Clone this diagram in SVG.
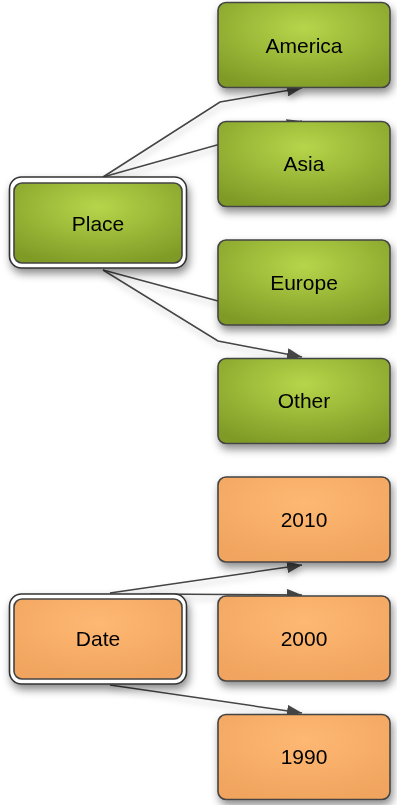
<svg xmlns="http://www.w3.org/2000/svg" width="397" height="805" viewBox="0 0 397 805">
<defs>
<radialGradient id="gg" cx="50%" cy="30%" r="75%" fx="50%" fy="30%">
<stop offset="0" stop-color="#b7d54a"/>
<stop offset="1" stop-color="#7f9b26"/>
</radialGradient>
<radialGradient id="og" cx="50%" cy="30%" r="75%" fx="50%" fy="30%">
<stop offset="0" stop-color="#feb873"/>
<stop offset="1" stop-color="#f0a45e"/>
</radialGradient>
<filter id="sh" x="-20%" y="-20%" width="150%" height="160%">
<feDropShadow dx="2" dy="5" stdDeviation="4" flood-color="#000" flood-opacity="0.45"/>
</filter>
<filter id="esh" x="-20%" y="-50%" width="140%" height="200%">
<feDropShadow dx="1" dy="4" stdDeviation="3" flood-color="#000" flood-opacity="0.25"/>
</filter>
<marker id="ah" markerWidth="16" markerHeight="12" refX="15" refY="6" orient="auto" markerUnits="userSpaceOnUse">
<path d="M0,0 L15,6 L0,12 Z" fill="#444"/>
</marker>
</defs>
<style>
.e{fill:none;stroke:#444;stroke-width:1.5}
.b{stroke:#444;stroke-width:1.6}
.g{fill:url(#gg)}
.o{fill:url(#og)}
.w{fill:#fff;stroke:#333;stroke-width:1.6}
text{font-family:"Liberation Sans",Arial,sans-serif;font-size:21px;fill:#000;text-anchor:middle}
</style>
<g id="connectors" filter="url(#esh)">
<path class="e" d="M103,177 L220,102 L302,88" marker-end="url(#ah)"/>
<path class="e" d="M103,177 L302,121" marker-end="url(#ah)"/>
<path class="e" d="M103,270 L218,301 L300,316" marker-end="url(#ah)"/>
<path class="e" d="M103,270 L218,341 L302,357" marker-end="url(#ah)"/>
<path class="e" d="M110,593 L302,565" marker-end="url(#ah)"/>
<path class="e" d="M150,594 L302,595" marker-end="url(#ah)"/>
<path class="e" d="M110,685 L302,713" marker-end="url(#ah)"/>
</g>
<g id="place" filter="url(#sh)">
<rect class="w" x="9.5" y="177" width="177" height="91" rx="12"/>
<rect class="b g" x="14" y="183" width="168" height="80" rx="8"/>
<text x="98" y="231">Place</text>
</g>
<g id="america" filter="url(#sh)">
<rect class="b g" x="218" y="2.5" width="172" height="85" rx="8"/>
<text x="304" y="53">America</text>
</g>
<g id="asia" filter="url(#sh)">
<rect class="b g" x="218" y="121.5" width="172" height="85" rx="8"/>
<text x="304" y="171">Asia</text>
</g>
<g id="europe" filter="url(#sh)">
<rect class="b g" x="218" y="240" width="172" height="85" rx="8"/>
<text x="304" y="290">Europe</text>
</g>
<g id="other" filter="url(#sh)">
<rect class="b g" x="218" y="358.5" width="172" height="85" rx="8"/>
<text x="304" y="408">Other</text>
</g>
<g id="date" filter="url(#sh)">
<rect class="w" x="9.5" y="594" width="177" height="90" rx="12"/>
<rect class="b o" x="14" y="599" width="168" height="80" rx="8"/>
<text x="98" y="646">Date</text>
</g>
<g id="y2010" filter="url(#sh)">
<rect class="b o" x="218" y="477" width="172" height="85" rx="8"/>
<text x="304" y="527">2010</text>
</g>
<g id="y2000" filter="url(#sh)">
<rect class="b o" x="218" y="596" width="172" height="85" rx="8"/>
<text x="304" y="646">2000</text>
</g>
<g id="y1990" filter="url(#sh)">
<rect class="b o" x="218" y="714.5" width="172" height="85" rx="8"/>
<text x="304" y="764">1990</text>
</g>
</svg>
